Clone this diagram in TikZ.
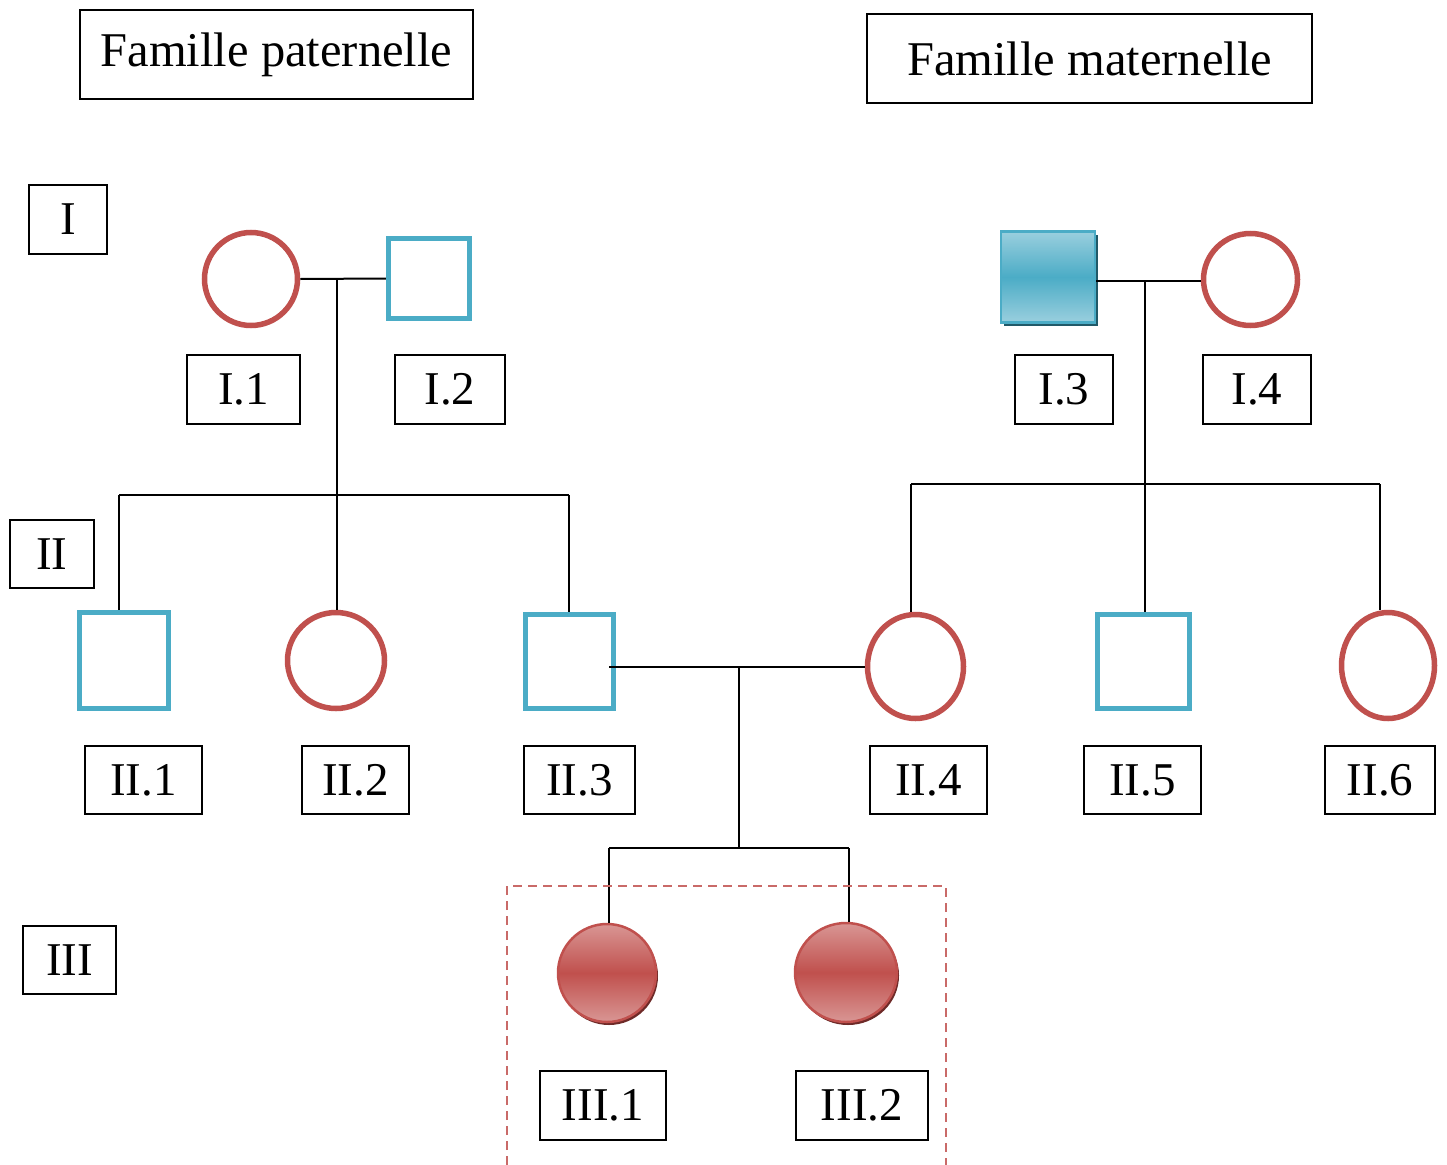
\documentclass[tikz,border=0pt]{standalone}
\usepackage{fontspec}
\setmainfont{Liberation Serif}
\usetikzlibrary{shapes.geometric,shadows}
\definecolor{fred}{HTML}{C0504D}
\definecolor{fredlight}{HTML}{D99694}
\definecolor{freddark}{HTML}{6E2A28}
\definecolor{fblue}{HTML}{4BACC6}
\definecolor{fbluelight}{HTML}{9ACFDE}
\definecolor{fbluedark}{HTML}{215968}
\begin{document}
\begin{tikzpicture}[x=1pt,y=-1pt,
  font=\fontsize{47}{50}\selectfont,
  lbl/.style={draw, line width=2pt, inner sep=0pt},
  ttl/.style={lbl, font=\fontsize{48.5}{52}\selectfont},
  conn/.style={draw, line width=2pt},
  fem/.style={ellipse, draw=fred, line width=5.5pt, fill=white, inner sep=0pt},
  mal/.style={rectangle, draw=fblue, line width=5.5pt, fill=white, inner sep=0pt},
  malaff/.style={rectangle, draw=fblue, line width=2.5pt, inner sep=0pt,
     top color=fbluelight, bottom color=fbluelight, middle color=fblue,
     drop shadow={shadow xshift=3pt, shadow yshift=-3pt, fill=fbluedark, opacity=1}},
  femaff/.style={ellipse, draw=fred, line width=2.5pt, inner sep=0pt,
     top color=fredlight, bottom color=fredlight, middle color=fred,
     drop shadow={shadow xshift=2pt, shadow yshift=-3pt, fill=freddark, opacity=1}}
]
\useasboundingbox (0,0) rectangle (1447,1164);

% titles
\node[ttl, minimum width=393pt, minimum height=89pt] (tp) at (276.5,54.5) {Famille paternelle};
\node[ttl, minimum width=445pt, minimum height=89pt] (tm) at (1089.5,58.5) {Famille maternelle};

% generation labels
\node[lbl, minimum width=78pt, minimum height=69pt] (gI) at (68,219.5) {I};
\node[lbl, minimum width=84pt, minimum height=68pt] (gII) at (52,554) {II};
\node[lbl, minimum width=93pt, minimum height=68pt] (gIII) at (69.5,960) {III};

% individuals
\node[fem, minimum width=93pt, minimum height=93pt] (I1) at (251,279) {};
\node[mal, minimum width=81pt, minimum height=80pt] (I2) at (429,278.5) {};
\node[malaff, minimum width=94pt, minimum height=91pt] (I3) at (1048,277) {};
\node[fem, minimum width=94pt, minimum height=92pt] (I4) at (1250.5,279.5) {};

\node[mal, minimum width=89pt, minimum height=96pt] (II1) at (124,660.5) {};
\node[fem, minimum width=97pt, minimum height=96pt] (II2) at (336,660.5) {};
\node[mal, minimum width=88pt, minimum height=94pt] (II3) at (569.5,661.5) {};
\node[fem, minimum width=96pt, minimum height=104pt] (II4) at (915.5,666.5) {};
\node[mal, minimum width=92pt, minimum height=94pt] (II5) at (1143.5,661.5) {};
\node[fem, minimum width=93pt, minimum height=106pt] (II6) at (1388,665.5) {};

\node[femaff, minimum width=98pt, minimum height=98pt] (III1) at (607,973) {};
\node[femaff, minimum width=102pt, minimum height=99pt] (III2) at (846,972.5) {};

% labels
\node[lbl, minimum width=113pt, minimum height=69pt] (lI1) at (243.5,389.5) {I.1};
\node[lbl, minimum width=110pt, minimum height=69pt] (lI2) at (450,389.5) {I.2};
\node[lbl, minimum width=98pt, minimum height=69pt] (lI3) at (1064,389.5) {I.3};
\node[lbl, minimum width=108pt, minimum height=69pt] (lI4) at (1257,389.5) {I.4};
\node[lbl, minimum width=117pt, minimum height=68pt] (lII1) at (143.5,780) {II.1};
\node[lbl, minimum width=107pt, minimum height=68pt] (lII2) at (355.5,780) {II.2};
\node[lbl, minimum width=111pt, minimum height=68pt] (lII3) at (579.5,780) {II.3};
\node[lbl, minimum width=117pt, minimum height=68pt] (lII4) at (928.5,780) {II.4};
\node[lbl, minimum width=117pt, minimum height=68pt] (lII5) at (1142.5,780) {II.5};
\node[lbl, minimum width=110pt, minimum height=68pt] (lII6) at (1380,780) {II.6};
\node[lbl, minimum width=126pt, minimum height=69pt] (lIII1) at (603,1105.5) {III.1};
\node[lbl, minimum width=132pt, minimum height=69pt] (lIII2) at (862,1105.5) {III.2};

% connectors: paternal
\coordinate (m1) at (337,280);
\coordinate (s1) at (337,495);
\coordinate (s1a) at (119,495);
\coordinate (s1c) at (569,495);
\draw[conn] (I1.east) -- (I2.west);
\draw[conn] (m1) -- (s1);
\draw[conn] (s1a) -- (s1c);
\draw[conn] (s1a) -- (s1a |- II1.north);
\draw[conn] (s1) -- (s1 |- II2.north);
\draw[conn] (s1c) -- (s1c |- II3.north);

% connectors: maternal
\coordinate (m2) at (1145,281);
\coordinate (s2) at (1145,484);
\coordinate (s2a) at (911,484);
\coordinate (s2c) at (1380,484);
\draw[conn] (I3.east |- m2) -- (I4.west |- m2);
\draw[conn] (m2) -- (s2);
\draw[conn] (s2a) -- (s2c);
\draw[conn] (s2a) -- (s2a |- II4.north);
\draw[conn] (s2) -- (s2 |- II5.north);
\draw[conn] (s2c) -- (s2c |- II6.north);

% connectors: generation III
\coordinate (m3a) at (609,667);
\coordinate (m3) at (739,667);
\coordinate (s3) at (739,848);
\coordinate (s3a) at (609,848);
\coordinate (s3c) at (849,848);
\draw[conn] (m3a) -- (m3a -| II4.west);
\draw[conn] (m3) -- (s3);
\draw[conn] (s3a) -- (s3c);
\draw[conn] (s3a) -- (s3a |- III1.north);
\draw[conn] (s3c) -- (s3c |- III2.north);

% dashed frame
\coordinate (d1) at (507,1180);
\coordinate (d2) at (507,886);
\coordinate (d3) at (946,886);
\coordinate (d4) at (946,1180);
\draw[fred!85, line width=2.5pt, dash pattern=on 9pt off 6pt] (d1) -- (d2) -- (d3) -- (d4);
\end{tikzpicture}
\end{document}
